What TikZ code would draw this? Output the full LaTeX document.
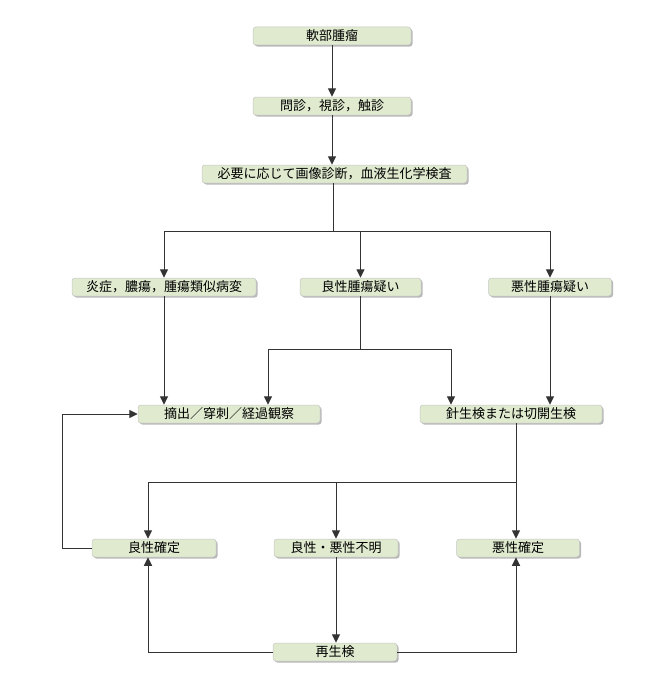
\documentclass[tikz,border=0pt]{standalone}
\usepackage{fontspec}
\setmainfont{Noto Sans CJK JP}
\usetikzlibrary{arrows.meta,shadows}
\definecolor{boxfill}{HTML}{DFEACF}
\definecolor{lncol}{HTML}{333333}
\begin{document}
\begin{tikzpicture}[x=1pt,y=-1pt,
  box/.style={draw=gray!45, line width=0.5pt, fill=boxfill, rounded corners=3pt,
    minimum height=18pt, inner sep=0pt, font=\fontsize{13}{15}\selectfont,
    drop shadow={shadow xshift=1.6pt, shadow yshift=-1.6pt, fill=gray!70, opacity=0.8}},
  ln/.style={draw=lncol, line width=1pt},
  arr/.style={ln, -{Triangle[width=8pt,length=8.5pt]}}]
\useasboundingbox (0,0) rectangle (668,677);
\node[box, minimum width=158pt] (A) at (332,36) {軟部腫瘤};
\node[box, minimum width=158pt] (B) at (332,106) {問診，視診，触診};
\node[box, minimum width=265pt] (C) at (334.5,174) {必要に応じて画像診断，血液生化学検査};
\node[box, minimum width=184pt] (D) at (164,287) {炎症，膿瘍，腫瘍類似病変};
\node[box, minimum width=121pt] (E) at (360.5,287) {良性腫瘍疑い};
\node[box, minimum width=123pt] (F) at (550,287) {悪性腫瘍疑い};
\node[box, minimum width=182pt] (G) at (229,414) {摘出／穿刺／経過観察};
\node[box, minimum width=182pt] (H) at (511,414) {針生検または切開生検};
\node[box, minimum width=124pt] (I) at (154,548) {良性確定};
\node[box, minimum width=124pt] (J) at (336,548) {良性・悪性不明};
\node[box, minimum width=123pt] (K) at (518,548) {悪性確定};
\node[box, minimum width=124pt] (L) at (335,652) {再生検};
\coordinate (jC) at (333,231);
\coordinate (jE) at (360.5,349);
\coordinate (jH) at (516,482);
% A -> B
\draw[arr] (A.south) -- (B.north);
% B -> C
\draw[arr] (B.south) -- (B.south |- C.north);
% C -> D, E, F
\draw[ln] (C.south -| jC) -- (jC);
\draw[ln] (jC -| D.north) -- (jC -| F.north);
\draw[arr] (jC -| D.north) -- (D.north);
\draw[arr] (jC -| E.north) -- (E.north);
\draw[arr] (jC -| F.north) -- (F.north);
% D -> G
\draw[arr] (D.south) -- (D.south |- G.north);
% E -> G, H
\draw[ln] (E.south) -- (jE);
\draw[ln] (268,349) -- (451,349);
\draw[arr] (268,349) -- (268,349 |- G.north);
\draw[arr] (451,349) -- (451,349 |- H.north);
% F -> H
\draw[arr] (F.south) -- (F.south |- H.north);
% H -> I, J, K
\draw[arr] (H.south -| jH) -- (jH |- K.north);
\draw[ln] (148,482) -- (jH);
\draw[arr] (148,482) -- (148,482 |- I.north);
\draw[arr] (336,482) -- (J.north);
% I -> G feedback
\draw[arr] (I.west) -- ++(-29,0) |- (G.west);
% J -> L
\draw[arr] (J.south) -- (J.south |- L.north);
% L -> I, K
\draw[arr] (L.west) -| (148,0 |- I.south);
\draw[arr] (L.east) -| (jH |- K.south);
\end{tikzpicture}
\end{document}
